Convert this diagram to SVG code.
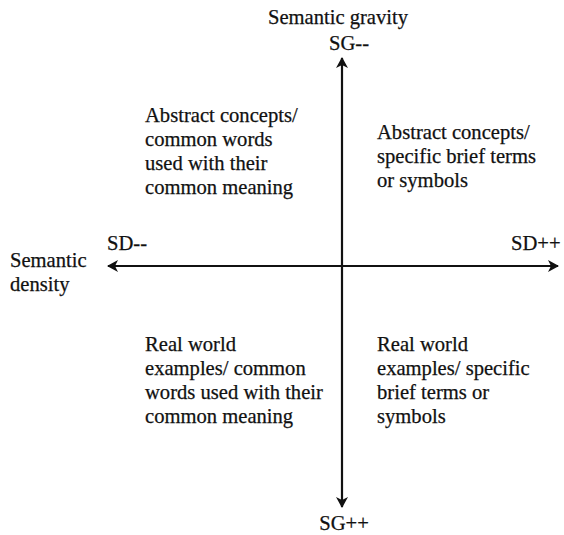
<svg xmlns="http://www.w3.org/2000/svg" width="564" height="535" viewBox="0 0 564 535">
<style>
text{font-family:"Liberation Serif","Times New Roman",serif;font-size:20.6px;fill:#111;stroke:#111;stroke-width:0.25}
.ax{stroke:#111;stroke-width:2.2;fill:none}
</style>
<defs>
<marker id="ah" viewBox="0 0 12 12" refX="10" refY="6" markerWidth="12" markerHeight="12" markerUnits="userSpaceOnUse" orient="auto-start-reverse">
<path d="M0,0 L11,6 L0,12 L3,6 Z" fill="#111"/>
</marker>
</defs>
<rect width="564" height="535" fill="#fff"/>
<g id="connectors">
<line class="ax" x1="342" y1="507" x2="342" y2="58" marker-start="url(#ah)" marker-end="url(#ah)"/>
<line class="ax" x1="108" y1="266" x2="558" y2="266" marker-start="url(#ah)" marker-end="url(#ah)"/>
</g>
<g id="sg-top">
<text x="338" y="24" text-anchor="middle">Semantic gravity</text>
<text x="349" y="50" text-anchor="middle">SG--</text>
</g>
<g id="sg-bottom"><text x="344" y="530" text-anchor="middle">SG++</text></g>
<g id="sd-left">
<text x="107" y="250">SD--</text>
<text x="10" y="267">Semantic</text>
<text x="10" y="291">density</text>
</g>
<g id="sd-right"><text x="511" y="250">SD++</text></g>
<g id="q-top-left">
<text x="145" y="122">Abstract concepts/</text>
<text x="145" y="146">common words</text>
<text x="145" y="170">used with their</text>
<text x="145" y="194">common meaning</text>
</g>
<g id="q-top-right">
<text x="377" y="139">Abstract concepts/</text>
<text x="377" y="163">specific brief terms</text>
<text x="377" y="187">or symbols</text>
</g>
<g id="q-bottom-left">
<text x="145" y="351">Real world</text>
<text x="145" y="375">examples/ common</text>
<text x="145" y="399">words used with their</text>
<text x="145" y="423">common meaning</text>
</g>
<g id="q-bottom-right">
<text x="377" y="351">Real world</text>
<text x="377" y="375">examples/ specific</text>
<text x="377" y="399">brief terms or</text>
<text x="377" y="423">symbols</text>
</g>
</svg>
